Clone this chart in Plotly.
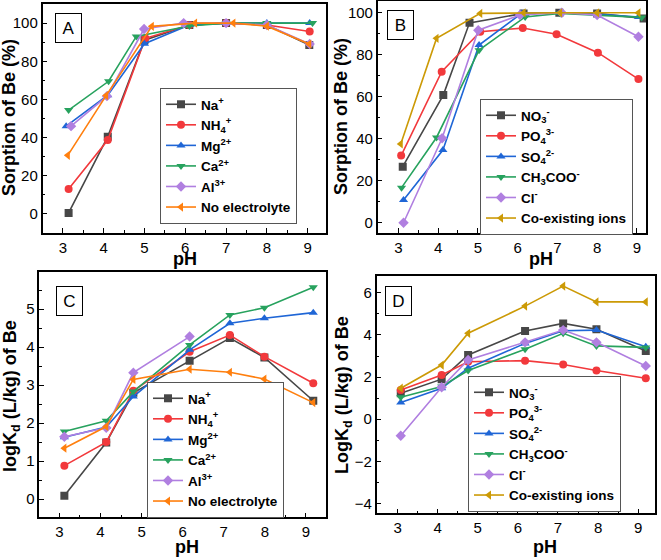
import plotly.graph_objects as go

W, H = 661, 560

# ---------------- Data ----------------
# Panel A: Sorption (%) vs pH, cations
A_names = ["Na<sup>+</sup>", "NH<sub>4</sub><sup>+</sup>", "Mg<sup>2+</sup>", "Ca<sup>2+</sup>",
           "Al<sup>3+</sup>", "No electrolyte"]
A_x = [
    [3.14, 4.10, 5.00, 6.10, 7.00, 8.00, 9.04],
    [3.14, 4.10, 5.02, 6.10, 7.00, 8.00, 9.05],
    [3.08, 4.10, 5.00, 6.10, 7.00, 8.00, 9.05],
    [3.14, 4.12, 4.80, 6.10, 7.00, 8.00, 9.12],
    [3.20, 4.08, 4.99, 5.96, 7.00, 8.00, 9.05],
    [3.12, 4.06, 5.18, 6.24, 7.18, 8.00, 9.04],
]
A_y = [
    [0.5, 40.5, 91.0, 99.0, 100.0, 99.0, 88.5],
    [13.0, 38.7, 92.0, 99.0, 100.0, 99.0, 95.6],
    [46.0, 62.2, 89.2, 99.0, 100.0, 100.0, 100.0],
    [54.4, 69.5, 93.0, 98.5, 100.0, 100.0, 100.0],
    [46.0, 61.7, 96.9, 100.0, 100.0, 99.0, 89.0],
    [30.7, 62.0, 98.3, 100.0, 100.0, 98.4, 89.0],
]

# Panel B: Sorption (%) vs pH, anions
B_names = ["NO<sub>3</sub><sup>-</sup>", "PO<sub>4</sub><sup>3-</sup>", "SO<sub>4</sub><sup>2-</sup>",
           "CH<sub>3</sub>COO<sup>-</sup>", "Cl<sup>-</sup>", "Co-existing ions"]
B_x = [
    [3.11, 4.13, 4.79, 6.15, 7.05, 8.00, 9.17],
    [3.07, 4.09, 5.06, 6.13, 6.98, 8.02, 9.04],
    [3.13, 4.12, 5.03, 6.10, 7.07, 8.00, 9.04],
    [3.08, 3.96, 5.03, 6.19, 7.07, 8.00, 9.12],
    [3.13, 4.10, 5.01, 6.06, 7.11, 8.00, 9.04],
    [3.06, 3.96, 5.06, 6.15, 7.07, 8.00, 9.04],
]
B_y = [
    [26.7, 60.8, 95.2, 99.7, 100.0, 99.7, 97.3],
    [32.0, 71.9, 91.0, 92.7, 89.8, 81.0, 68.4],
    [10.8, 34.6, 84.6, 99.7, 100.0, 99.4, 98.0],
    [16.7, 40.6, 82.2, 98.0, 99.7, 98.9, 97.8],
    [0.0, 40.2, 91.7, 98.9, 100.0, 98.9, 88.6],
    [37.5, 87.8, 99.7, 100.0, 100.0, 100.0, 100.0],
]

# Panel C: logKd vs pH, cations
C_x = [3.12, 4.14, 4.80, 6.17, 7.15, 7.99, 9.18]
C_y = [
    [0.09, 1.49, 2.80, 3.64, 4.24, 3.73, 2.59],
    [0.88, 1.50, 2.85, 3.88, 4.32, 3.75, 3.05],
    [1.63, 1.90, 2.70, 3.93, 4.63, 4.76, 4.91],
    [1.78, 2.06, 2.83, 4.06, 4.85, 5.04, 5.58],
    [1.64, 1.88, 3.33, 4.28],
    [1.34, 1.91, 3.15, 3.42, 3.34, 3.16, 2.54],
]

# Panel D: logKd vs pH, anions
D_x = [3.08, 4.10, 4.76, 6.18, 7.13, 7.96, 9.19]
D_y = [
    [1.23, 1.90, 3.05, 4.19, 4.55, 4.27, 3.24],
    [1.39, 2.10, 2.73, 2.78, 2.60, 2.31, 1.94],
    [0.79, 1.47, 2.42, 3.60, 4.20, 4.23, 3.44],
    [1.04, 1.55, 2.31, 3.32, 4.08, 3.48, 3.41],
    [-0.79, 1.52, 2.81, 3.65, 4.23, 3.65, 2.53],
    [1.47, 2.57, 4.08, 5.37, 6.32, 5.57, 5.57],
]

x_ticks = [3, 4, 5, 6, 7, 8, 9]

# ---------------- Styles ----------------
colors = ["#474747", "#f2393c", "#1f66d6", "#27a25e", "#b07fe0", "#ff7f0e"]
colorsB = ["#474747", "#f2393c", "#1f66d6", "#27a25e", "#b07fe0", "#cc9a06"]
symbols = ["square", "circle", "triangle-up", "triangle-down", "diamond", "triangle-left"]
FONT = "Liberation Sans, Arial, sans-serif"

fig = go.Figure()


def add_panel(xs, ys, names, cols, xa, ya, leg, showleg=True):
    for i in range(len(ys)):
        x = xs[i] if isinstance(xs[0], list) else xs[:len(ys[i])]
        fig.add_trace(go.Scatter(
            x=x, y=ys[i], name=names[i], mode="lines+markers",
            line=dict(color=cols[i], width=1.6),
            marker=dict(symbol=symbols[i], size=8, color=cols[i]),
            xaxis=xa, yaxis=ya, legend=leg, showlegend=showleg,
        ))


add_panel(A_x, A_y, A_names, colors, "x", "y", "legend")
add_panel(B_x, B_y, B_names, colorsB, "x2", "y2", "legend2")
add_panel(C_x, C_y, A_names, colors, "x3", "y3", "legend3")
add_panel(D_x, D_y, B_names, colorsB, "x4", "y4", "legend4")


def px_x(p):
    return p / W


def px_y(p):
    return 1 - p / H


def xaxis(dom, rng, anchor):
    return dict(domain=dom, range=rng, anchor=anchor, tickvals=x_ticks, automargin=False,
                showline=True, mirror=True, linecolor="black", linewidth=1.5,
                ticks="inside", ticklen=5, tickwidth=1.2, tickcolor="black",
                minor=dict(ticks="inside", ticklen=3, dtick=0.5, tickcolor="black"),
                showgrid=False, zeroline=False,
                tickfont=dict(family=FONT, size=15, color="black"))


def yaxis(dom, rng, anchor, dtick, mdtick):
    return dict(domain=dom, range=rng, anchor=anchor, dtick=dtick, tick0=0, automargin=False,
                showline=True, mirror=True, linecolor="black", linewidth=1.5,
                ticks="inside", ticklen=5, tickwidth=1.2, tickcolor="black",
                minor=dict(ticks="inside", ticklen=3, dtick=mdtick, tickcolor="black"),
                showgrid=False, zeroline=False,
                tickfont=dict(family=FONT, size=15, color="black"))


domA_x = [px_x(42.5), px_x(326)]
domA_y = [px_y(233), px_y(4)]
domB_x = [px_x(377.7), px_x(646)]
domB_y = [px_y(233), px_y(1)]
domC_x = [px_x(39.3), px_x(326)]
domC_y = [px_y(517.3), px_y(272)]
domD_x = [px_x(376.7), px_x(655)]
domD_y = [px_y(513.3), px_y(276)]


def legend(x, y):
    return dict(x=px_x(x), y=px_y(y), xanchor="left", yanchor="top",
                bgcolor="white", bordercolor="#555555", borderwidth=1,
                font=dict(family=FONT, size=13.5, color="black", weight="bold"),
                tracegroupgap=0, itemwidth=30)


annotations = []


def label(txt, cx, cy):
    annotations.append(dict(text=txt, x=px_x(cx), y=px_y(cy), xref="paper", yref="paper",
                            xanchor="center", yanchor="middle",
                            showarrow=False, font=dict(family=FONT, size=17, color="black"),
                            bordercolor="black", borderwidth=1, borderpad=0,
                            width=25, height=28, bgcolor="white"))


def title(txt, cx, cy, angle=0):
    annotations.append(dict(text=txt, x=px_x(cx), y=px_y(cy), xref="paper", yref="paper",
                            xanchor="center", yanchor="middle",
                            showarrow=False, textangle=angle,
                            font=dict(family=FONT, size=18, color="black", weight="bold")))


label("A", 68.5, 28)
label("B", 400, 25.5)
label("C", 69, 301)
label("D", 398, 300.5)

title("pH", 185, 259)
title("pH", 541, 259)
title("pH", 187, 547)
title("pH", 545, 547)
title("Sorption of Be (%)", 9, 118, -90)
title("Sorption of Be (%)", 341, 117, -90)
title("logK<sub>d</sub> (L/kg) of Be", 11, 396, -90)
title("LogK<sub>d</sub> (L/kg) of Be", 343, 395, -90)

fig.update_layout(
    width=W, height=H, margin=dict(l=0, r=0, t=0, b=0),
    paper_bgcolor="white", plot_bgcolor="white",
    xaxis=xaxis(domA_x, [2.5, 9.45], "y"),
    yaxis=yaxis(domA_y, [-10, 110], "x", 20, 10),
    xaxis2=xaxis(domB_x, [2.48, 9.23], "y2"),
    yaxis2=yaxis(domB_y, [-4.9, 105.6], "x2", 20, 10),
    xaxis3=xaxis(domC_x, [2.51, 9.49], "y3"),
    yaxis3=yaxis(domC_y, [-0.48, 5.98], "x3", 1, 0.5),
    xaxis4=xaxis(domD_x, [2.48, 9.42], "y4"),
    yaxis4=yaxis(domD_y, [-4.47, 6.8], "x4", 2, 1),
    legend=legend(160, 88),
    legend2=legend(480, 99),
    legend3=legend(147, 382),
    legend4=legend(468, 376),
    annotations=annotations,
    showlegend=True,
)

fig.write_html("out.html", config={"displayModeBar": False},
               post_script="document.body.style.margin='0px';")
